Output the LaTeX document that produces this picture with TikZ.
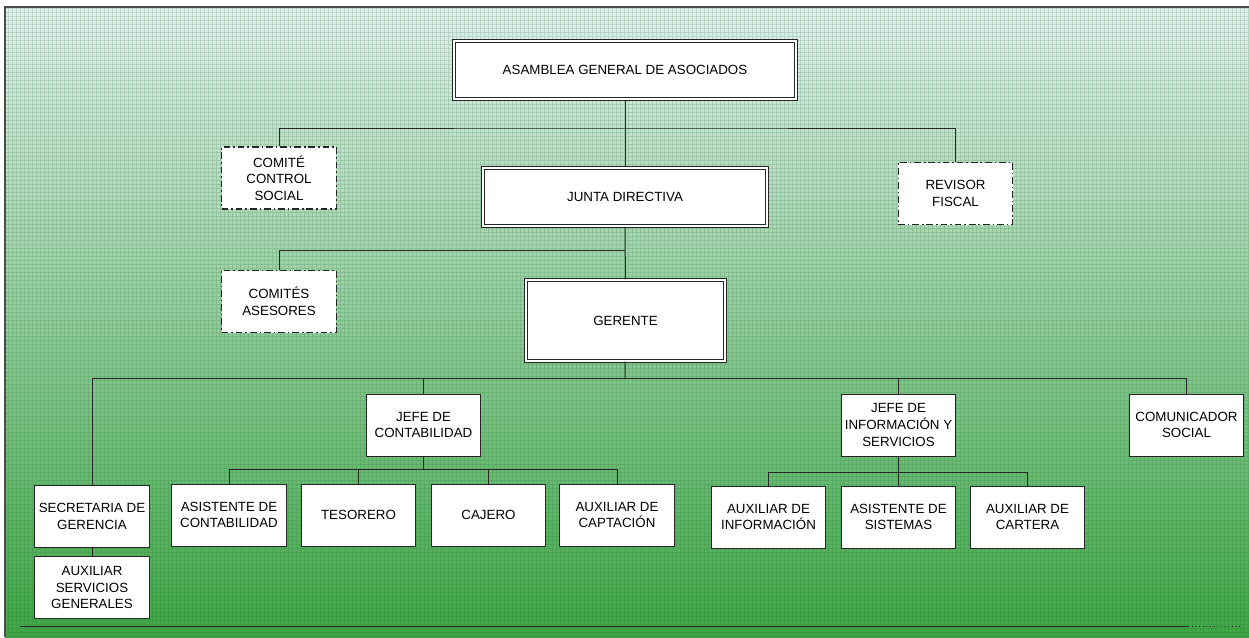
\documentclass[tikz,border=0pt]{standalone}
\usepackage{fontspec}
\setmainfont{Liberation Sans}
\definecolor{fondoarriba}{RGB}{228,239,242}
\definecolor{fondomedio}{RGB}{138,196,146}
\definecolor{fondoabajo}{RGB}{62,166,70}
\definecolor{cuadricula}{RGB}{30,120,40}
\begin{document}
\begin{tikzpicture}[x=0.75pt, y=-0.75pt,
	caja/.style={draw=black!85, fill=white, line width=0.75pt, align=center,
		minimum width=86pt, minimum height=46.5pt, inner sep=1pt,
		font=\fontsize{10}{12.5}\selectfont},
	doble/.style={caja, double=white, double distance=1.5pt, line width=0.75pt},
	asesor/.style={caja, line width=0.8pt, dash pattern=on 5pt off 2.2pt on 1.2pt off 2.2pt},
	linea/.style={draw=black!85, line width=0.75pt}]
	\useasboundingbox (0,0) rectangle (1249,637);
	
	% Background
	\shade[top color=fondoarriba, middle color=fondomedio, bottom color=fondoabajo] (5,7) rectangle (1249,637);
	\draw[cuadricula, opacity=0.2, line width=0.3pt, step=3pt] (5,7) grid (1249,637);
	\draw[black!70, line width=0.8pt] (1249,7) -- (5,7) -- (5,637);
	
	% Define coordinates
	\coordinate (bus1) at (625,128);
	\coordinate (bus2) at (625,250);
	\coordinate (bus3) at (625,378);
	\coordinate (bus4) at (423.5,469);
	\coordinate (bus5) at (898.5,472);
	\coordinate (pieA) at (20,626);
	\coordinate (pieB) at (1188,626);
	\coordinate (pieC) at (1243,626);
	
	% Top levels
	\node[doble, minimum width=256pt, minimum height=44pt] (asamblea) at (625,70) {ASAMBLEA GENERAL DE ASOCIADOS};
	\node[doble, minimum width=213pt, minimum height=44pt] (junta) at (625,197) {JUNTA DIRECTIVA};
	\node[doble, minimum width=149pt, minimum height=61pt] (gerente) at (625.5,320.5) {GERENTE};
	\node[asesor] (control) at (279,178) {COMITÉ\\CONTROL\\SOCIAL};
	\node[asesor] (revisor) at (955.5,193.5) {REVISOR\\FISCAL};
	\node[asesor] (comites) at (279,301.5) {COMITÉS\\ASESORES};
	
	% Jefes
	\node[caja] (jefecont) at (423.5,425) {JEFE DE\\CONTABILIDAD};
	\node[caja] (jefeinfo) at (898.5,425) {JEFE DE\\INFORMACIÓN Y\\SERVICIOS};
	\node[caja] (comunicador) at (1186.5,425) {COMUNICADOR\\SOCIAL};
	\node[caja] (secretaria) at (92,516.5) {SECRETARIA DE\\GERENCIA};
	\node[caja] (auxserv) at (92,587.5) {AUXILIAR\\SERVICIOS\\GENERALES};
	
	% Contabilidad
	\node[caja] (asistcont) at (229,515) {ASISTENTE DE\\CONTABILIDAD};
	\node[caja] (tesorero) at (358.5,515) {TESORERO};
	\node[caja] (cajero) at (488.5,515) {CAJERO};
	\node[caja] (auxcapt) at (617,515) {AUXILIAR DE\\CAPTACIÓN};
	
	% Informacion
	\node[caja] (auxinfo) at (768.5,517) {AUXILIAR DE\\INFORMACIÓN};
	\node[caja] (asistsis) at (898.5,517) {ASISTENTE DE\\SISTEMAS};
	\node[caja] (auxcart) at (1027.5,517) {AUXILIAR DE\\CARTERA};
	
	% Connectors
	\draw[linea] (asamblea) -- (junta);
	\draw[linea] (control.north) |- (bus1) -| (revisor.north);
	\draw[linea] (junta) -- (gerente);
	\draw[linea] (comites.north) |- (bus2);
	\draw[linea] (gerente) -- (bus3);
	\draw[linea] (secretaria.north) |- (bus3) -| (comunicador.north);
	\draw[linea] (jefecont.north) -- (jefecont.north |- bus3);
	\draw[linea] (jefeinfo.north) -- (jefeinfo.north |- bus3);
	\draw[linea] (secretaria) -- (auxserv);
	\draw[linea] (jefecont) -- (bus4);
	\draw[linea] (asistcont.north) |- (bus4) -| (auxcapt.north);
	\draw[linea] (tesorero.north) -- (tesorero.north |- bus4);
	\draw[linea] (cajero.north) -- (cajero.north |- bus4);
	\draw[linea] (jefeinfo) -- (asistsis);
	\draw[linea] (auxinfo.north) |- (bus5) -| (auxcart.north);
	
	% Bottom line
	\draw[linea] (pieA) -- (pieB);
	\draw[linea, dotted] (pieB) -- (pieC);
\end{tikzpicture}
\end{document}
